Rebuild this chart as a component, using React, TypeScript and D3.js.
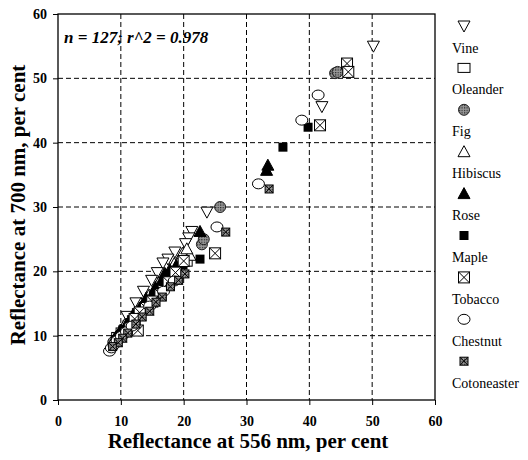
import { useEffect, useRef } from 'react';
import * as d3 from 'd3';

type Pt = [number, number];

const species = ['Vine', 'Oleander', 'Fig', 'Hibiscus', 'Rose', 'Maple', 'Tobacco', 'Chestnut', 'Cotoneaster'];

const vine: Pt[] = [[50.2, 55.0], [42.0, 45.6], [23.7, 29.2], [21.3, 26.2], [20.8, 25.2], [20.3, 24.3], [18.6, 23.0], [17.5, 21.9], [16.7, 21.3], [15.8, 19.8], [14.9, 18.6], [13.6, 16.9], [12.4, 15.1], [11.0, 13.0]];
const oleander: Pt[] = [[9.5, 9.8], [10.2, 10.5], [11.3, 11.6], [12.0, 12.4], [12.8, 13.5], [13.5, 14.0], [14.2, 14.8], [15.0, 15.9], [15.8, 16.5], [16.4, 17.2], [17.0, 18.0], [18.1, 19.0], [19.2, 20.4], [10.8, 11.0], [20.4, 21.5]];
const fig: Pt[] = [[44.1, 50.8], [44.5, 51.0], [25.8, 30.0], [22.9, 24.2], [23.2, 25.0], [19.5, 21.5], [17.6, 19.4], [16.2, 17.8], [14.8, 16.0], [13.3, 14.2], [12.1, 12.8], [10.9, 11.4], [9.7, 10.0], [8.8, 9.0]];
const hibiscus: Pt[] = [[21.0, 22.5], [19.8, 22.8], [18.5, 21.2], [17.2, 19.0], [16.0, 18.2], [14.5, 16.3], [13.2, 15.0], [12.3, 13.5], [11.5, 12.6], [10.6, 11.7], [9.8, 10.6], [9.0, 9.5], [15.3, 17.0], [20.5, 23.5]];
const rose: Pt[] = [[33.4, 36.5], [33.2, 35.7], [22.6, 26.2], [17.0, 19.7], [17.8, 20.3], [16.5, 18.6], [15.5, 17.5], [14.0, 15.8], [13.0, 14.3], [11.8, 13.0], [10.9, 11.8], [10.0, 10.8], [9.3, 9.9], [18.8, 20.9]];
const maple: Pt[] = [[39.8, 42.4], [35.8, 39.3], [22.6, 21.9], [19.9, 21.0], [18.3, 19.5], [17.4, 17.8], [16.8, 18.4], [15.2, 16.2], [14.4, 15.1], [13.8, 14.7], [12.6, 13.4], [11.4, 12.0], [10.3, 10.9], [9.1, 9.4]];
const tobacco: Pt[] = [[46.0, 52.3], [46.2, 51.0], [41.7, 42.7], [25.0, 22.8], [20.0, 21.6], [18.7, 19.8], [17.6, 18.3], [16.3, 16.4], [15.0, 15.3], [14.0, 14.3], [13.0, 13.6], [12.2, 12.6], [11.5, 11.2], [12.7, 10.8]];
const chestnut: Pt[] = [[41.4, 47.4], [38.8, 43.5], [31.9, 33.6], [25.3, 26.9], [8.2, 7.6], [8.5, 8.1], [8.9, 8.6], [9.4, 9.2], [10.1, 9.9], [10.9, 10.6], [11.8, 11.5], [14.6, 14.6], [16.8, 16.9], [18.5, 18.5]];
const cotoneaster: Pt[] = [[33.6, 32.8], [26.7, 26.1], [19.2, 18.6], [17.9, 17.6], [16.6, 16.0], [15.6, 15.2], [14.6, 13.8], [13.4, 12.9], [12.4, 11.8], [11.1, 10.4], [10.3, 9.6], [9.6, 8.9], [8.7, 8.3], [20.2, 19.6]];

const seriesData = [vine, oleander, fig, hibiscus, rose, maple, tobacco, chestnut, cotoneaster];
const ticks = [0, 10, 20, 30, 40, 50, 60];

const SERIF = 'Liberation Serif, Tinos, Times New Roman, DejaVu Serif, serif';

function drawMarker(g: d3.Selection<SVGGElement, unknown, null, undefined>, kind: number) {
    const stroke = '#000';
    switch (kind) {
        case 0: // Vine - open triangle down
            g.append('path').attr('d', 'M-6,-5L6,-5L0,6Z').attr('fill', '#fff').attr('stroke', stroke);
            break;
        case 1: // Oleander - open rectangle
            g.append('rect').attr('x', -6).attr('y', -4.5).attr('width', 12).attr('height', 9)
                .attr('fill', '#fff').attr('stroke', stroke);
            break;
        case 2: // Fig - hatched circle
            g.append('circle').attr('r', 5.5).attr('fill', 'url(#hatch)').attr('stroke', '#222');
            break;
        case 3: // Hibiscus - open triangle up
            g.append('path').attr('d', 'M-6,5L6,5L0,-6Z').attr('fill', '#fff').attr('stroke', stroke);
            break;
        case 4: // Rose - filled triangle
            g.append('path').attr('d', 'M-6,5L6,5L0,-6Z').attr('fill', '#000').attr('stroke', stroke);
            break;
        case 5: // Maple - filled square
            g.append('rect').attr('x', -4.5).attr('y', -4.5).attr('width', 9).attr('height', 9)
                .attr('fill', '#000');
            break;
        case 6: // Tobacco - box with X
            g.append('rect').attr('x', -5.5).attr('y', -5.5).attr('width', 11).attr('height', 11)
                .attr('fill', '#fff').attr('stroke', stroke);
            g.append('path').attr('d', 'M-5.5,-5.5L5.5,5.5M5.5,-5.5L-5.5,5.5').attr('stroke', stroke);
            break;
        case 7: // Chestnut - open circle
            g.append('ellipse').attr('rx', 6).attr('ry', 5).attr('fill', '#fff').attr('stroke', stroke);
            break;
        case 8: // Cotoneaster - small hatched box with X
            g.append('rect').attr('x', -4).attr('y', -4).attr('width', 8).attr('height', 8)
                .attr('fill', 'url(#hatch)').attr('stroke', stroke);
            g.append('path').attr('d', 'M-4,-4L4,4M4,-4L-4,4').attr('stroke', stroke);
            break;
    }
}

function ReflectanceScatter() {
    const ref = useRef<SVGSVGElement | null>(null);

    useEffect(() => {
        const width = 528;
        const height = 460;
        const left = 58;
        const right = 435;
        const top = 14;
        const bottom = 400;

        const svg = d3.select(ref.current);
        svg.selectAll('*').remove();
        svg.attr('viewBox', `0 0 ${width} ${height}`);

        const x = d3.scaleLinear().domain([0, 60]).range([left, right]);
        const y = d3.scaleLinear().domain([0, 60]).range([bottom, top]);

        // hatch pattern for Fig / Cotoneaster
        const pat = svg.append('defs').append('pattern')
            .attr('id', 'hatch')
            .attr('patternUnits', 'userSpaceOnUse')
            .attr('width', 2.5)
            .attr('height', 2.5);
        pat.append('rect').attr('width', 2.5).attr('height', 2.5).attr('fill', '#999');
        pat.append('rect').attr('width', 1.2).attr('height', 1.2).attr('fill', '#222');

        // === grid ===
        const grid = svg.append('g').attr('stroke', '#000').attr('stroke-dasharray', '5,3');
        ticks.slice(1, -1).forEach((t) => {
            grid.append('line').attr('x1', x(t)).attr('x2', x(t)).attr('y1', top).attr('y2', bottom);
            grid.append('line').attr('x1', left).attr('x2', right).attr('y1', y(t)).attr('y2', y(t));
        });

        // === frame ===
        svg.append('rect')
            .attr('x', left).attr('y', top)
            .attr('width', right - left).attr('height', bottom - top)
            .attr('fill', 'none').attr('stroke', '#000').attr('stroke-width', 1.3);

        // === axes ===
        const xAxis = svg.append('g')
            .attr('transform', `translate(0,${bottom})`)
            .call(d3.axisBottom(x).tickValues(ticks).tickSize(5).tickPadding(11));
        const yAxis = svg.append('g')
            .attr('transform', `translate(${left},0)`)
            .call(d3.axisLeft(y).tickValues(ticks).tickSize(5).tickPadding(6));
        [xAxis, yAxis].forEach((a) => {
            a.attr('font-family', null).attr('font-size', null);
            a.select('.domain').remove();
            a.selectAll('text')
                .style('font-family', SERIF)
                .style('font-weight', 'bold')
                .style('font-size', '14px')
                .attr('fill', '#000');
        });

        // === points ===
        seriesData.forEach((pts, k) => {
            const layer = svg.append('g');
            pts.forEach(([vx, vy]) => {
                const g = layer.append('g').attr('transform', `translate(${x(vx)},${y(vy)})`);
                drawMarker(g, k);
            });
        });

        // === annotation ===
        svg.append('text')
            .attr('x', 64).attr('y', 43)
            .style('font-family', SERIF)
            .style('font-weight', 'bold')
            .style('font-style', 'italic')
            .style('font-size', '17px')
            .text('n = 127; r^2 = 0.978');

        // === axis titles ===
        svg.append('text')
            .attr('x', 248).attr('y', 448)
            .attr('text-anchor', 'middle')
            .style('font-family', SERIF)
            .style('font-weight', 'bold')
            .style('font-size', '21px')
            .text('Reflectance at 556 nm, per cent');
        svg.append('text')
            .attr('transform', `translate(25,205) rotate(-90)`)
            .attr('text-anchor', 'middle')
            .style('font-family', SERIF)
            .style('font-weight', 'bold')
            .style('font-size', '21px')
            .text('Reflectance at 700 nm, per cent');

        // === legend ===
        const legend = svg.append('g');
        species.forEach((name, i) => {
            const cy = 48 + i * 41.9;
            const m = legend.append('g').attr('transform', `translate(464,${cy - 22})`);
            drawMarker(m, i);
            legend.append('text')
                .attr('x', 452).attr('y', cy + 4.5)
                .style('font-family', SERIF)
                .style('font-size', '14px')
                .attr('fill', '#000')
                .text(name);
        });
    }, []);

    return <svg ref={ref} width={528} height={460} style={{ display: 'block' }} />;
}

export default function App() {
    return (
        <div style={{ margin: -8 }}>
            <ReflectanceScatter />
        </div>
    );
}
